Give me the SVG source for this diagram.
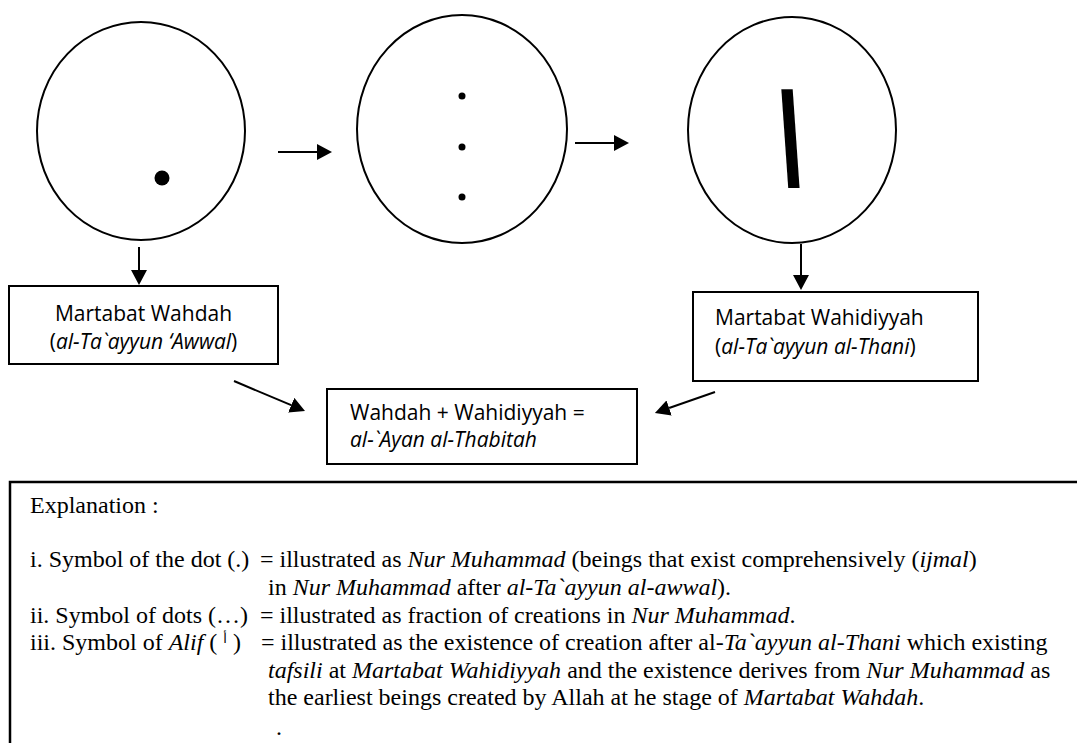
<svg xmlns="http://www.w3.org/2000/svg" width="1077" height="743" viewBox="0 0 1077 743">
<style>
.shape{fill:none;stroke:#000;stroke-width:2}
.conn{stroke:#000;stroke-width:2;fill:none;marker-end:url(#ah)}
.box{fill:#fff;stroke:#000;stroke-width:2}
.lbl{font-family:"Open Sans","Liberation Sans",sans-serif;font-size:21px;fill:#000}
.exp{font-family:"Liberation Serif","Times New Roman",serif;font-size:24px;fill:#000}
.it{font-style:italic}
</style>
<defs>
<marker id="ah" markerUnits="userSpaceOnUse" markerWidth="15" markerHeight="16" viewBox="0 0 15 16" refX="0" refY="8" orient="auto">
<path d="M0,0 L15,8 L0,16 Z" fill="#000"/>
</marker>
</defs>
<rect width="1077" height="743" fill="#fff"/>
<g id="circle-dot">
<ellipse class="shape" cx="141" cy="131" rx="104" ry="109"/>
<circle cx="162" cy="178" r="7.5" fill="#000"/>
</g>
<g id="circle-dots">
<ellipse class="shape" cx="462" cy="129" rx="105" ry="114"/>
<circle cx="462" cy="96" r="3.5" fill="#000"/>
<circle cx="462" cy="147" r="3.5" fill="#000"/>
<circle cx="462" cy="197" r="3.5" fill="#000"/>
</g>
<g id="circle-alif">
<ellipse class="shape" cx="792" cy="130" rx="104" ry="113"/>
<text x="0" y="0" transform="translate(794,188) skewX(4) scale(0.5,1)" font-family="DejaVu Sans, sans-serif" font-size="130" font-weight="bold" text-anchor="middle">ا</text>
</g>
<g id="box-wahdah">
<rect class="box" x="9" y="286" width="269" height="78"/>
<text class="lbl" x="143.5" y="321" text-anchor="middle">Martabat Wahdah</text>
<text class="lbl" x="143.5" y="349" text-anchor="middle">(<tspan class="it">al-Ta`ayyun ‘Awwal</tspan>)</text>
</g>
<g id="box-wahidiyyah">
<rect class="box" x="693" y="292" width="285" height="89"/>
<text class="lbl" x="715" y="325">Martabat Wahidiyyah</text>
<text class="lbl" x="715" y="354">(<tspan class="it">al-Ta`ayyun al-Thani</tspan>)</text>
</g>
<g id="box-ayan">
<rect class="box" x="327" y="389" width="310" height="75"/>
<text class="lbl" x="350" y="420">Wahdah + Wahidiyyah =</text>
<text class="lbl it" x="350" y="447">al-`Ayan al-Thabitah</text>
</g>
<g id="connectors">
<line class="conn" x1="278" y1="152" x2="317" y2="152"/>
<line class="conn" x1="575" y1="143" x2="614" y2="143"/>
<line class="conn" x1="139" y1="247" x2="139" y2="270"/>
<line class="conn" x1="801" y1="244" x2="801" y2="275"/>
<line class="conn" x1="234" y1="381" x2="291.2" y2="405.2"/>
<line class="conn" x1="715" y1="392" x2="669.1" y2="408"/>
</g>
<g id="explanation">
<rect x="10" y="482" width="1100" height="300" fill="none" stroke="#000" stroke-width="2.5"/>
<text class="exp" x="30" y="513">Explanation :</text>
<text class="exp" x="30" y="567">i. Symbol of the dot (.)</text>
<text class="exp" x="260" y="567">= illustrated as <tspan class="it">Nur Muhammad</tspan> (beings that exist comprehensively (<tspan class="it">ijmal</tspan>)</text>
<text class="exp" x="268" y="595">in <tspan class="it">Nur Muhammad</tspan> after <tspan class="it">al-Ta`ayyun al-awwal</tspan>).</text>
<text class="exp" x="30" y="623">ii. Symbol of dots (…)</text>
<text class="exp" x="260" y="623">= illustrated as fraction of creations in <tspan class="it">Nur Muhammad</tspan>.</text>
<text class="exp" x="30" y="650">iii. Symbol of <tspan class="it">Alif</tspan> ( <tspan font-family="DejaVu Sans, sans-serif" font-size="13" dy="-7">أ</tspan><tspan dy="7"> )</tspan></text>
<text class="exp" x="261" y="650">= illustrated as the existence of creation after al-<tspan class="it">Ta`ayyun al-Thani</tspan> which existing</text>
<text class="exp" x="268" y="678"><tspan class="it">tafsili</tspan> at <tspan class="it">Martabat Wahidiyyah</tspan> and the existence derives from <tspan class="it">Nur Muhammad</tspan> as</text>
<text class="exp" x="268" y="705">the earliest beings created by Allah at he stage of <tspan class="it">Martabat Wahdah</tspan>.</text>
<text class="exp" x="276" y="735">.</text>
</g>
</svg>
